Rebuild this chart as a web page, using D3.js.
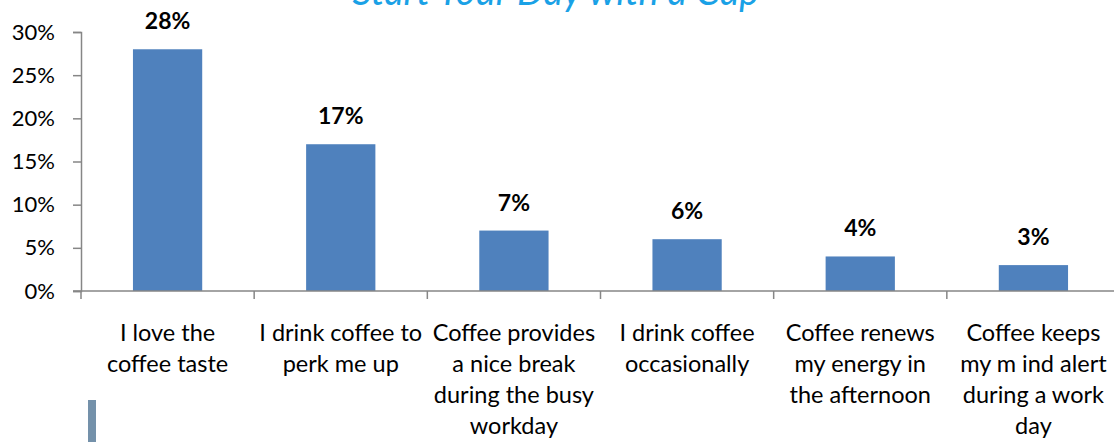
<!DOCTYPE html>
<html>
<head>
<meta charset="utf-8">
<script src="https://cdn.jsdelivr.net/npm/d3@7"></script>
<style>
  body { margin: 0; background: #fff; overflow: hidden; }
  text { font-family: Lato, "Open Sans", sans-serif; }
</style>
</head>
<body>
<div id="chart"></div>
<script>
// Data
const categories = [
    ["I love the", "coffee taste"],
    ["I drink coffee to", "perk me up"],
    ["Coffee provides", "a nice break", "during the busy", "workday"],
    ["I drink coffee", "occasionally"],
    ["Coffee renews", "my energy in", "the afternoon"],
    ["Coffee keeps", "my m ind alert", "during a work", "day"]
];
const values = [28, 17, 7, 6, 4, 3];
const yTicks = [0, 5, 10, 15, 20, 25, 30];
const title = "Start Your Day with a Cup";

const W = 1114, H = 442;
const x0 = 81, x1 = 1120, yTop = 32, yBottom = 291;

const svg = d3.select("#chart")
    .append("svg")
    .attr("width", W)
    .attr("height", H);

// Scales
const x = d3.scaleBand()
    .domain(d3.range(categories.length))
    .range([x0, x1])
    .paddingInner(0.6)
    .paddingOuter(0.3);
const y = d3.scaleLinear().domain([0, 30]).range([yBottom, yTop]);

// Title (mostly cut off at the top, as in the source)
svg.append("text")
    .attr("x", 556)
    .attr("y", 5)
    .attr("text-anchor", "middle")
    .style("font-size", "38px")
    .style("font-style", "italic")
    .style("fill", "#1aa1e6")
    .text(title);

// Bars
svg.selectAll("rect.bar")
    .data(values)
    .enter()
    .append("rect")
    .attr("class", "bar")
    .attr("x", (d, i) => x(i))
    .attr("y", d => y(d))
    .attr("width", x.bandwidth())
    .attr("height", d => y(0) - y(d))
    .attr("fill", "#4f81bd");

// Value labels
svg.selectAll("text.val")
    .data(values)
    .enter()
    .append("text")
    .attr("class", "val")
    .attr("x", (d, i) => x(i) + x.bandwidth() / 2)
    .attr("y", d => y(d) - 20)
    .attr("text-anchor", "middle")
    .style("font-size", "23px")
    .style("font-weight", "bold")
    .text(d => d + "%");

// Y axis
const yAxis = svg.append("g")
    .attr("transform", `translate(${x0},0)`)
    .call(d3.axisLeft(y).tickValues(yTicks).tickSize(8).tickPadding(18).tickFormat(d => d + "%"));
yAxis.select(".domain").attr("stroke", "#868686").attr("stroke-width", 1.5);
yAxis.selectAll(".tick line").attr("stroke", "#868686").attr("stroke-width", 1.5);
yAxis.selectAll(".tick text")
    .style("font-size", "22px")
    .style("font-family", "Lato, 'Open Sans', sans-serif")
    .attr("fill", "#000");

// X axis line and category dividers
svg.append("line")
    .attr("x1", x0 - 8).attr("x2", x1)
    .attr("y1", yBottom).attr("y2", yBottom)
    .attr("stroke", "#868686").attr("stroke-width", 1.5);
svg.selectAll("line.xtick")
    .data(d3.range(categories.length + 1))
    .enter()
    .append("line")
    .attr("class", "xtick")
    .attr("x1", i => x0 + i * (x1 - x0) / categories.length)
    .attr("x2", i => x0 + i * (x1 - x0) / categories.length)
    .attr("y1", yBottom).attr("y2", yBottom + 8)
    .attr("stroke", "#868686").attr("stroke-width", 1.5);

// Category labels
const catG = svg.selectAll("text.cat")
    .data(categories)
    .enter()
    .append("text")
    .attr("class", "cat")
    .attr("text-anchor", "middle")
    .style("font-size", "23.5px");
catG.selectAll("tspan")
    .data((d, i) => d.map(line => ({line, i})))
    .enter()
    .append("tspan")
    .attr("x", d => x(d.i) + x.bandwidth() / 2)
    .attr("y", (d, j) => 341 + j * 31)
    .text(d => d.line);

// stray marker at bottom left
svg.append("rect")
    .attr("x", 88).attr("y", 400)
    .attr("width", 8).attr("height", 42)
    .attr("fill", "#7491aa");
</script>
</body>
</html>
